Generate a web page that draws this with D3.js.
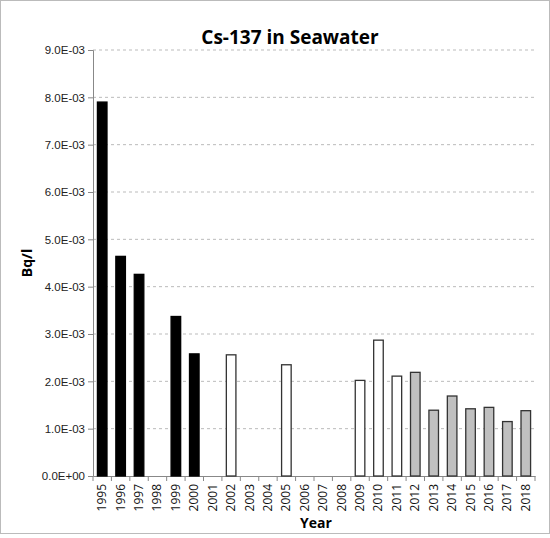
<!DOCTYPE html><html><head><meta charset="utf-8"><script src="https://cdn.jsdelivr.net/npm/d3@7"></script>
<style>body{margin:0;background:#fff}svg{font-family:"Open Sans",Arial,sans-serif}</style></head><body><svg id="c" width="550" height="538"></svg><script>
const years=["1995","1996","1997","1998","1999","2000","2001","2002","2003","2004","2005","2006","2007","2008","2009","2010","2011","2012","2013","2014","2015","2016","2017","2018"];
const values=[7.9e-3,4.64e-3,4.26e-3,null,3.37e-3,2.58e-3,null,2.56e-3,null,null,2.35e-3,null,null,null,2.02e-3,2.87e-3,2.11e-3,2.19e-3,1.39e-3,1.69e-3,1.42e-3,1.45e-3,1.15e-3,1.38e-3];
const groups=["black","black","black","black","black","black","white","white","white","white","white","white","white","white","white","white","white","grey","grey","grey","grey","grey","grey","grey"];
const yTicks=[0,1e-3,2e-3,3e-3,4e-3,5e-3,6e-3,7e-3,8e-3,9e-3];
const fills={black:"#000",white:"#fff",grey:"#c0c0c0"};
const svg=d3.select("#c");
svg.append("rect").attr("x",0.5).attr("y",0.5).attr("width",549).attr("height",533).attr("fill","#fff").attr("stroke","#bbb");
const L=93,R=535,T=50,B=476;
const x=d3.scaleBand().domain(years).range([L,R]).paddingInner(0.48).paddingOuter(0.24);
const y=d3.scaleLinear().domain([0,9e-3]).range([B,T]);
svg.append("g").selectAll("line").data(yTicks.slice(1)).join("line").attr("x1",L).attr("x2",R).attr("y1",d=>y(d)).attr("y2",d=>y(d)).attr("stroke","#bbb").attr("stroke-dasharray","3,3");
const fmt=d=>d===0?"0.0E+00":(d/1e-3).toFixed(1)+"E-03";
const ya=svg.append("g").attr("transform",`translate(${L},0)`).call(d3.axisLeft(y).tickValues(yTicks).tickFormat(fmt).tickSize(5));
ya.selectAll("text").attr("font-size",11.5).attr("fill","#222");
ya.selectAll("line,path").attr("stroke","#888");
const step=x.step();
const xa=svg.append("g").attr("transform",`translate(0,${B})`).call(d3.axisBottom(x).tickSize(0).tickFormat(""));
xa.select("path").attr("stroke","#888");
svg.append("g").selectAll("line").data(d3.range(years.length+1)).join("line").attr("x1",i=>L+i*step).attr("x2",i=>L+i*step).attr("y1",B).attr("y2",B+5).attr("stroke","#888");
svg.append("g").selectAll("text").data(years).join("text").attr("transform",d=>`translate(${x(d)+x.bandwidth()/2+4},${B+8}) rotate(-90)`).attr("text-anchor","end").attr("font-size",12).attr("fill","#111").text(d=>d);
svg.append("g").selectAll("rect").data(years.map((d,i)=>({d,v:values[i],g:groups[i]})).filter(o=>o.v!=null)).join("rect")
.attr("x",o=>x(o.d)).attr("width",x.bandwidth()).attr("y",o=>y(o.v)).attr("height",o=>B-y(o.v)).attr("fill",o=>fills[o.g]).attr("stroke",o=>o.g==="black"?"#000":"#333").attr("stroke-width",1.3);
svg.append("text").attr("x",290).attr("y",44).attr("text-anchor","middle").attr("font-size",19).attr("font-weight","bold").text("Cs-137 in Seawater");
svg.append("text").attr("x",316).attr("y",528).attr("text-anchor","middle").attr("font-size",14).attr("font-weight","bold").text("Year");
svg.append("text").attr("transform","translate(32,263) rotate(-90)").attr("text-anchor","middle").attr("font-size",14).attr("font-weight","bold").text("Bq/l");
</script></body></html>
